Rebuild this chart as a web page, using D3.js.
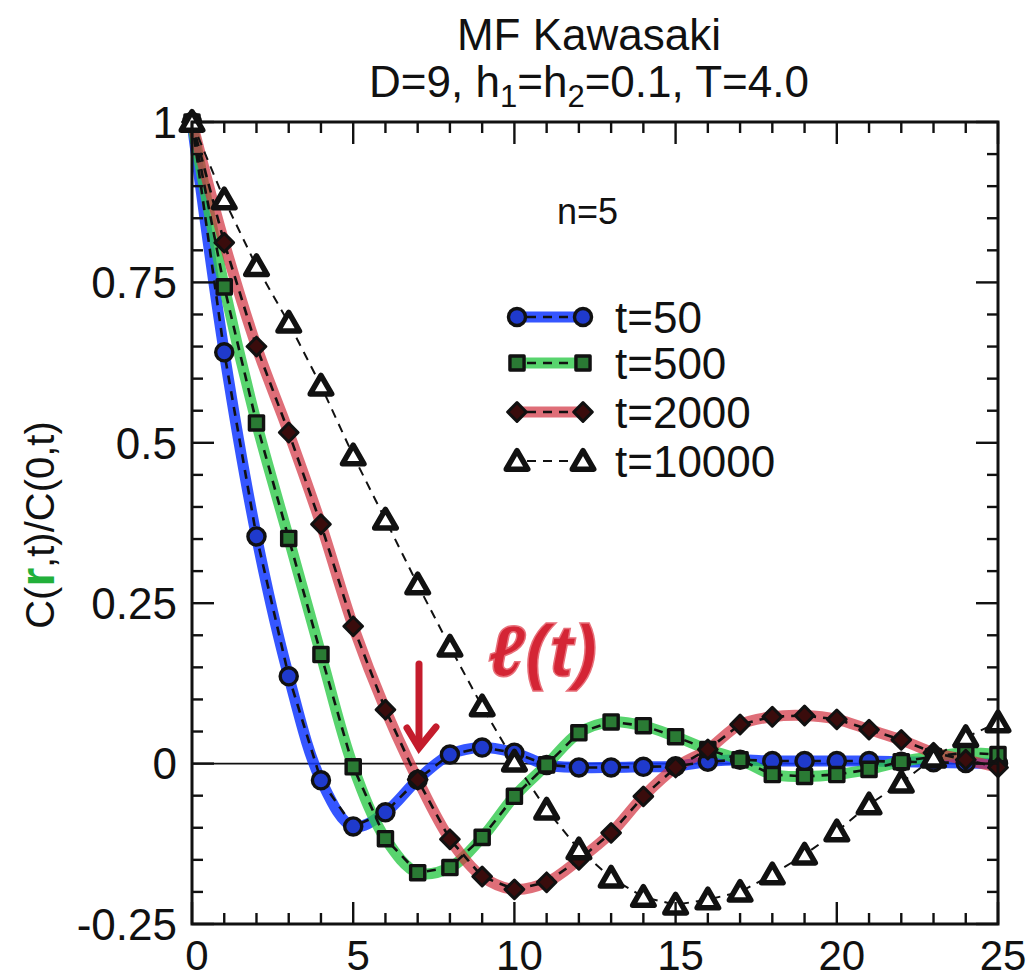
<!DOCTYPE html>
<html>
<head>
<meta charset="utf-8">
<script src="https://cdn.jsdelivr.net/npm/d3@7"></script>
<style>
  body { margin: 0; background: #fff; }
  text { font-family: "Liberation Sans", Arial, sans-serif; fill: #111; }
</style>
</head>
<body>
<script>
// data
const rValues = [0,1,2,3,4,5,6,7,8,9,10,11,12,13,14,15,16,17,18,19,20,21,22,23,24,25]
const t50    = [1, 0.641, 0.354, 0.136, -0.026, -0.098, -0.076, -0.025, 0.014, 0.025, 0.017, -0.002, -0.006, -0.006, -0.005, -0.004, 0.003, 0.006, 0.004, 0.004, 0.004, 0.004, 0.003, 0.002, 0.001, 0.0]
const t500   = [1, 0.743, 0.531, 0.351, 0.170, -0.005, -0.117, -0.170, -0.162, -0.115, -0.051, -0.002, 0.048, 0.065, 0.059, 0.042, 0.022, 0.006, -0.017, -0.020, -0.017, -0.009, 0.003, 0.011, 0.017, 0.014]
const t2000  = [1, 0.812, 0.650, 0.516, 0.373, 0.214, 0.084, -0.025, -0.118, -0.176, -0.196, -0.185, -0.150, -0.108, -0.051, -0.006, 0.022, 0.061, 0.073, 0.075, 0.069, 0.053, 0.037, 0.017, 0.006, -0.006]
const t10000 = [1, 0.879, 0.775, 0.687, 0.589, 0.480, 0.380, 0.279, 0.182, 0.089, 0.003, -0.072, -0.134, -0.178, -0.208, -0.220, -0.212, -0.200, -0.173, -0.142, -0.106, -0.064, -0.030, 0.009, 0.041, 0.064]
const legendLabels = ["t=50", "t=500", "t=2000", "t=10000"]
const xTicks = [0, 5, 10, 15, 20, 25]
const yTicks = [-0.25, 0, 0.25, 0.5, 0.75, 1]
const yTickLabels = ["-0.25", "0", "0.25", "0.5", "0.75", "1"]

const width = 1030, height = 980
const pLeft = 192, pRight = 998, pTop = 122, pBottom = 924

let svg = d3.select("body").append("svg")
  .attr("width", width)
  .attr("height", height)

let x = d3.scaleLinear().domain([0, 25]).range([pLeft, pRight])
let y = d3.scaleLinear().domain([-0.25, 1]).range([pBottom, pTop])

let series = [
  {name: legendLabels[0], vals: t50, band: "#1238ff", bandOp: 0.85, fill: "#1f3acc", sym: d3.symbolCircle, size: 230, sw: 3.4, rot: 0},
  {name: legendLabels[1], vals: t500, band: "#2ec94a", bandOp: 0.8, fill: "#2a7a34", sym: d3.symbolSquare, size: 200, sw: 3.4, rot: 0},
  {name: legendLabels[2], vals: t2000, band: "#d2303f", bandOp: 0.7, fill: "#3a0c0c", sym: d3.symbolSquare, size: 175, sw: 3, rot: 45},
  {name: legendLabels[3], vals: t10000, band: null, fill: "#fff", sym: d3.symbolTriangle, size: 200, sw: 5.5, rot: 0}
]

// zero line
svg.append("line")
  .attr("x1", pLeft).attr("x2", pRight)
  .attr("y1", y(0)).attr("y2", y(0))
  .attr("stroke", "#111").attr("stroke-width", 1.6)

let band = d3.line().x((d, i) => x(rValues[i])).y(d => y(d)).curve(d3.curveCatmullRom)
let dash = d3.line().x((d, i) => x(rValues[i])).y(d => y(d))

let g = svg.append("g")

series.forEach(s => {
  if (s.band) {
    g.append("path")
      .attr("d", band(s.vals))
      .attr("fill", "none")
      .attr("stroke", s.band)
      .attr("stroke-opacity", s.bandOp)
      .attr("stroke-width", 11)
      .attr("stroke-linecap", "round")
      .attr("stroke-linejoin", "round")
  }
})

series.forEach(s => {
  g.append("path")
    .attr("d", dash(s.vals))
    .attr("fill", "none")
    .attr("stroke", "#111")
    .attr("stroke-width", s.band ? 2.6 : 2)
    .attr("stroke-dasharray", "9,7")
})

function drawMarker(sel, s, px, py) {
  let isTri = s.sym === d3.symbolTriangle
  sel.append("path")
    .attr("d", d3.symbol().type(s.sym).size(s.size)())
    .attr("transform", `translate(${px},${py + (isTri ? 2 : 0)}) rotate(${s.rot})`)
    .attr("fill", s.fill)
    .attr("stroke", "#111")
    .attr("stroke-width", s.sw)
    .attr("stroke-linejoin", "round")
}

series.forEach(s => {
  let mg = g.append("g")
  s.vals.forEach((v, i) => drawMarker(mg, s, x(rValues[i]), y(v)))
})

// frame
svg.append("rect")
  .attr("x", pLeft).attr("y", pTop)
  .attr("width", pRight - pLeft).attr("height", pBottom - pTop)
  .attr("fill", "none").attr("stroke", "#111").attr("stroke-width", 3)

// ticks (inward, on all four sides)
let ticksG = svg.append("g").attr("stroke", "#111").attr("stroke-width", 2.4)
d3.range(0, 26).forEach(v => {
  let len = v % 5 === 0 ? 22 : 11
  ticksG.append("line").attr("x1", x(v)).attr("x2", x(v)).attr("y1", pBottom).attr("y2", pBottom - len)
  ticksG.append("line").attr("x1", x(v)).attr("x2", x(v)).attr("y1", pTop).attr("y2", pTop + len)
})
d3.range(0, 26).forEach(k => {
  let v = -0.25 + k * 0.05
  let len = k % 5 === 0 ? 22 : 11
  ticksG.append("line").attr("x1", pLeft).attr("x2", pLeft + len).attr("y1", y(v)).attr("y2", y(v))
  ticksG.append("line").attr("x1", pRight).attr("x2", pRight - len).attr("y1", y(v)).attr("y2", y(v))
})

// tick labels
svg.append("g").selectAll("text")
  .data(xTicks).enter().append("text")
    .attr("x", d => x(d) + 5)
    .attr("y", 970)
    .attr("text-anchor", "middle")
    .attr("font-size", 42)
    .text(d => d)

svg.append("g").selectAll("text")
  .data(yTicks).enter().append("text")
    .attr("x", 177)
    .attr("y", d => y(d))
    .attr("dy", "0.36em")
    .attr("text-anchor", "end")
    .attr("font-size", 44)
    .text((d, i) => yTickLabels[i])

// titles
let title = svg.append("g").attr("text-anchor", "middle")
title.append("text").attr("x", 589).attr("y", 50).attr("font-size", 44).text("MF Kawasaki")
let sub = title.append("text").attr("x", 589).attr("y", 97).attr("font-size", 44)
sub.append("tspan").text("D=9, h")
sub.append("tspan").attr("font-size", 31).attr("dy", 10).text("1")
sub.append("tspan").attr("dy", -10).text("=h")
sub.append("tspan").attr("font-size", 31).attr("dy", 10).text("2")
sub.append("tspan").attr("dy", -10).text("=0.1, T=4.0")

svg.append("text").attr("x", 557).attr("y", 224).attr("font-size", 36).text("n=5")

// y axis label
let yl = svg.append("text")
  .attr("transform", "translate(54,525) rotate(-90)")
  .attr("text-anchor", "middle")
  .attr("font-size", 40)
yl.append("tspan").text("C(")
yl.append("tspan").attr("fill", "#22b03a").attr("font-weight", "bold").attr("font-size", 48).text("r")
yl.append("tspan").text(",t)/C(0,t)")

// legend
let legendY = [317, 363, 412, 461]
series.forEach((s, i) => {
  let lg = svg.append("g")
  let ly = legendY[i]
  if (s.band) {
    lg.append("line").attr("x1", 517).attr("x2", 583).attr("y1", ly).attr("y2", ly)
      .attr("stroke", s.band).attr("stroke-opacity", s.bandOp).attr("stroke-width", 11)
  }
  lg.append("line").attr("x1", 517).attr("x2", 583).attr("y1", ly).attr("y2", ly)
    .attr("stroke", "#111").attr("stroke-width", s.band ? 2.6 : 2).attr("stroke-dasharray", "9,7")
    .attr("stroke-dashoffset", -10)
  drawMarker(lg, s, 517, ly)
  drawMarker(lg, s, 583, ly)
  lg.append("text").attr("x", 615).attr("y", ly).attr("dy", "0.36em").attr("font-size", 44).text(s.name)
})

// hand-drawn annotations
svg.append("text")
  .attr("x", 488).attr("y", 676)
  .attr("font-family", "DejaVu Serif, serif")
  .attr("font-style", "italic")
  .attr("font-weight", "bold")
  .attr("font-size", 72)
  .style("fill", "#d42535")
  .attr("stroke", "#e8707a").attr("stroke-width", 1.5)
  .text("ℓ(t)")

let arrow = svg.append("g").attr("stroke", "#c41c2c").attr("stroke-width", 7)
  .attr("stroke-linecap", "round").attr("fill", "none")
arrow.append("line").attr("x1", 419).attr("x2", 419).attr("y1", 664).attr("y2", 745)
arrow.append("path").attr("d", "M407,728 L419,748 L436,727")
</script>
</body>
</html>
